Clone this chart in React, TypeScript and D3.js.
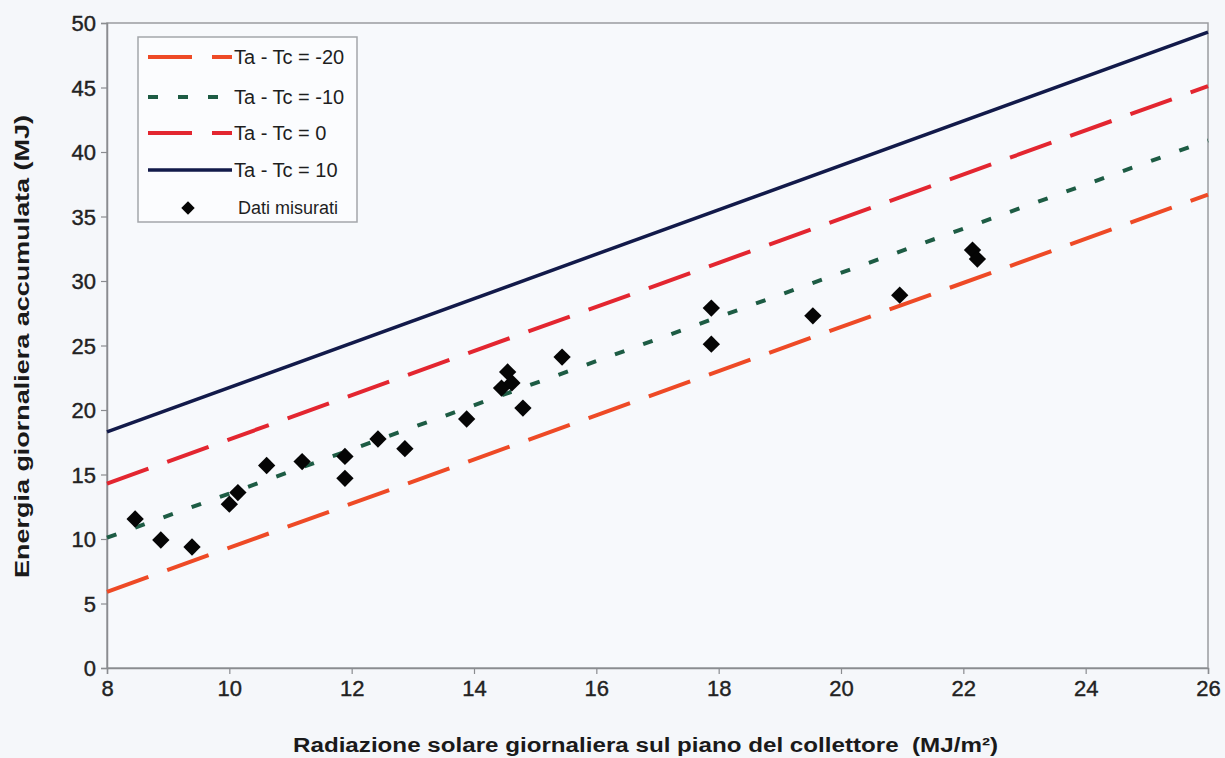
import React, { useRef, useEffect } from "react";
import * as d3 from "d3";

// Axis ticks
const xTicks = [8, 10, 12, 14, 16, 18, 20, 22, 24, 26];
const yTicks = [0, 5, 10, 15, 20, 25, 30, 35, 40, 45, 50];

// Model lines (radiation, energy)
const lineM20 = [
  [8, 5.9],
  [26, 36.7],
];
const lineM10 = [
  [8, 10.1],
  [26, 40.9],
];
const line0 = [
  [8, 14.3],
  [26, 45.1],
];
const line10 = [
  [8, 18.3],
  [26, 49.3],
];

// Measured data
const measuredX = [
  8.46, 8.88, 9.39, 10.0, 10.14, 10.61, 11.19, 11.89, 11.89, 12.43, 12.87, 13.88, 14.45, 14.55, 14.62,
  14.8, 15.44, 17.88, 17.88, 19.54, 20.96, 22.15, 22.23,
];
const measuredY = [
  11.55, 9.92, 9.38, 12.7, 13.6, 15.7, 16.0, 16.4, 14.7, 17.75, 17.0, 19.3, 21.7, 22.95, 22.1, 20.15,
  24.1, 27.9, 25.1, 27.3, 28.9, 32.4, 31.7,
];

const seriesNames = ["Ta - Tc = -20", "Ta - Tc = -10", "Ta - Tc = 0", "Ta - Tc = 10", "Dati misurati"];

const App = () => {
  const svgRef = useRef(null);
  const width = 1225;
  const height = 758;

  useEffect(() => {
    const svg = d3.select(svgRef.current);
    svg.selectAll("*").remove();

    const margin = { top: 23, right: 17, bottom: 90, left: 107 };
    const chartWidth = width - margin.left - margin.right;
    const chartHeight = height - margin.top - margin.bottom;
    const font = "'Liberation Sans', Arial, sans-serif";

    svg.append("rect").attr("width", width).attr("height", height).attr("fill", "#f5f7fa");

    const g = svg.append("g").attr("transform", `translate(${margin.left},${margin.top})`);

    const x = d3.scaleLinear().domain([8, 26]).range([0, chartWidth]);
    const y = d3.scaleLinear().domain([0, 50]).range([chartHeight, 0]);

    // plot frame
    g.append("rect")
      .attr("width", chartWidth)
      .attr("height", chartHeight)
      .attr("fill", "#f7f9fc")
      .attr("stroke", "#9a9ca0")
      .attr("stroke-width", 1.5);

    // axes
    const xAxis = d3.axisBottom(x).tickValues(xTicks).tickSize(6).tickPadding(6);
    const yAxis = d3.axisLeft(y).tickValues(yTicks).tickSize(6).tickPadding(5);

    const gx = g.append("g").attr("transform", `translate(0,${chartHeight})`).call(xAxis);
    const gy = g.append("g").call(yAxis);
    [gx, gy].forEach((ax) => {
      ax.select(".domain").attr("stroke", "#8a8c90").attr("stroke-width", 1.5);
      ax.selectAll(".tick line").attr("stroke", "#8a8c90").attr("stroke-width", 1.2);
      ax.selectAll(".tick text")
        .attr("font-family", font)
        .attr("font-size", 22)
        .attr("fill", "#222")
        .attr("stroke", "#222")
        .attr("stroke-width", 0.4);
    });
    gy.selectAll(".tick text").attr("dy", "0.36em");

    // axis titles
    svg.append("text")
      .attr("x", 293)
      .attr("y", 752)
      .attr("font-family", font)
      .attr("font-weight", "bold")
      .attr("font-size", 20)
      .attr("fill", "#1a1a1a")
      .attr("textLength", 705)
      .attr("lengthAdjust", "spacingAndGlyphs")
      .style("white-space", "pre")
      .text("Radiazione solare giornaliera sul piano del collettore  (MJ/m²)");

    svg.append("text")
      .attr("transform", `translate(29,578) rotate(-90)`)
      .attr("font-family", font)
      .attr("font-weight", "bold")
      .attr("font-size", 20)
      .attr("fill", "#1a1a1a")
      .attr("textLength", 463)
      .attr("lengthAdjust", "spacingAndGlyphs")
      .text("Energia giornaliera accumulata (MJ)");

    const line = d3
      .line()
      .x((d) => x(d[0]))
      .y((d) => y(d[1]));

    const lineStyles = [
      { data: lineM20, color: "#ee4a26", width: 4, dash: "44,20" },
      { data: lineM10, color: "#1d5c44", width: 4, dash: "10,20" },
      { data: line0, color: "#e32630", width: 4, dash: "44,20" },
      { data: line10, color: "#121a4a", width: 3.5, dash: null },
    ];

    lineStyles.forEach((s) => {
      g.append("path")
        .datum(s.data)
        .attr("fill", "none")
        .attr("stroke", s.color)
        .attr("stroke-width", s.width)
        .attr("stroke-dasharray", s.dash)
        .attr("d", line);
    });

    // measured points
    const diamond = d3.symbol().type(d3.symbolSquare).size(150);
    g.selectAll(".pt")
      .data(measuredX)
      .enter()
      .append("path")
      .attr("d", diamond)
      .attr("transform", (d, i) => `translate(${x(d)},${y(measuredY[i])}) rotate(45)`)
      .attr("fill", "#050505");

    // legend
    const lg = svg.append("g").attr("transform", "translate(138,37)");
    lg.append("rect")
      .attr("width", 219)
      .attr("height", 185)
      .attr("fill", "#fbfcfe")
      .attr("stroke", "#a4a6aa")
      .attr("stroke-width", 1.5);

    const rowY = [20, 60, 96, 133, 171];
    seriesNames.forEach((name, i) => {
      const ry = rowY[i];
      if (i < 4) {
        const s = lineStyles[i];
        lg.append("line")
          .attr("x1", 10)
          .attr("x2", 94)
          .attr("y1", ry)
          .attr("y2", ry)
          .attr("stroke", s.color)
          .attr("stroke-width", s.width)
          .attr("stroke-dasharray", s.dash);
      } else {
        lg.append("path")
          .attr("d", d3.symbol().type(d3.symbolSquare).size(90))
          .attr("transform", `translate(50,${ry}) rotate(45)`)
          .attr("fill", "#050505");
      }
      lg.append("text")
        .attr("x", i < 4 ? 96 : 100)
        .attr("y", ry)
        .attr("dy", "0.36em")
        .attr("font-family", font)
        .attr("font-size", i < 4 ? 20 : 18)
        .attr("fill", "#1e1e1e")
        .text(name);
    });
  }, []);

  return (
    <div style={{ position: "absolute", left: 0, top: 0 }}>
      <svg ref={svgRef} width={width} height={height} style={{ display: "block" }}></svg>
    </div>
  );
};

export default App;
